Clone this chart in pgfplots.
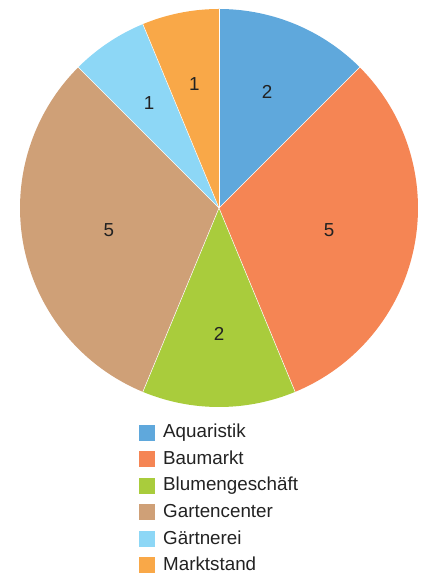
\documentclass[border=0pt]{standalone}
\usepackage{pgfplots}
\usepackage{pgfplotstable}
\pgfplotsset{compat=1.18}
\usepackage{fontspec}
\setmainfont{Liberation Sans}
\definecolor{c0}{HTML}{5FA8DC}
\definecolor{c1}{HTML}{F58554}
\definecolor{c2}{HTML}{A9CC3C}
\definecolor{c3}{HTML}{CFA077}
\definecolor{c4}{HTML}{8DD7F6}
\definecolor{c5}{HTML}{F9A848}
\definecolor{txt}{HTML}{222222}
\pgfplotstableread{
label value
Aquaristik 2
Baumarkt 5
Blumengeschäft 2
Gartencenter 5
Gärtnerei 1
Marktstand 1
}\piedata
\begin{document}%
\begin{tikzpicture}
% cumulative angles (clockwise from top)
\def\total{0}
\foreach \i in {0,...,5}{%
  \pgfplotstablegetelem{\i}{value}\of\piedata
  \pgfmathsetmacro\tmp{\total+\pgfplotsretval}\xdef\total{\tmp}}
\def\cum{0}
\foreach \i in {0,...,5}{%
  \pgfplotstablegetelem{\i}{value}\of\piedata
  \xdef\vv{\pgfplotsretval}%
  \expandafter\xdef\csname v\i\endcsname{\vv}%
  \pgfmathsetmacro\aa{90-360*\cum/\total}%
  \pgfmathsetmacro\bb{90-360*(\cum+\vv)/\total}%
  \pgfmathsetmacro\mm{(\aa+\bb)/2}%
  \pgfmathsetmacro\th{360*\vv/\total}%
  \pgfmathsetmacro\rr{min(126,4*199*sin(\th/2)/(3*rad(\th)))}%
  \expandafter\xdef\csname a\i\endcsname{\aa}%
  \expandafter\xdef\csname b\i\endcsname{\bb}%
  \expandafter\xdef\csname m\i\endcsname{\mm}%
  \expandafter\xdef\csname r\i\endcsname{\rr}%
  \pgfmathsetmacro\nc{\cum+\vv}\xdef\cum{\nc}}
\begin{axis}[
  width=426pt, height=575pt, scale only axis,
  xmin=0, xmax=426, ymin=0, ymax=575,
  hide axis, clip=false,
  legend style={at={(axis cs:139,575-424.3)}, anchor=north west, draw=none, fill=none,
    font=\fontsize{18.8}{22}\selectfont\color{txt}, row sep=9.8pt,
    legend cell align=left, inner sep=0pt,
    nodes={inner sep=0pt, text height=13.5pt, text depth=3.2pt},
    /tikz/every odd column/.append style={column sep=8pt}},
  legend image code/.code={\fill[#1, draw=none] (0pt,-8pt) rectangle (16pt,8pt);},
]
\coordinate (ll) at (axis cs:0,0);
\coordinate (ur) at (axis cs:426,575);
\pgfplotsinvokeforeach{0,...,5}{%
  \fill[c#1] (axis cs:219,367) -- plot[domain=\csname a#1\endcsname:\csname b#1\endcsname, samples=80, variable=\t] (axis cs:{219+199*cos(\t)},{367+199*sin(\t)}) -- cycle;
}
\pgfplotsinvokeforeach{0,...,5}{%
  \draw[white, line width=0.5pt] (axis cs:219,367) -- (axis cs:{219+199*cos(\csname a#1\endcsname)},{367+199*sin(\csname a#1\endcsname)});
  \node[font=\fontsize{18.8}{22}\selectfont, text=txt] at (axis cs:{219+\csname r#1\endcsname*cos(\csname m#1\endcsname)},{367+\csname r#1\endcsname*sin(\csname m#1\endcsname)}) {\csname v#1\endcsname};
}
\addlegendimage{fill=c0}\addlegendentry{Aquaristik}
\addlegendimage{fill=c1}\addlegendentry{Baumarkt}
\addlegendimage{fill=c2}\addlegendentry{Blumengeschäft}
\addlegendimage{fill=c3}\addlegendentry{Gartencenter}
\addlegendimage{fill=c4}\addlegendentry{Gärtnerei}
\addlegendimage{fill=c5}\addlegendentry{Marktstand}
\end{axis}
\pgfresetboundingbox
\path (ll) rectangle (ur);
\end{tikzpicture}%
\end{document}
